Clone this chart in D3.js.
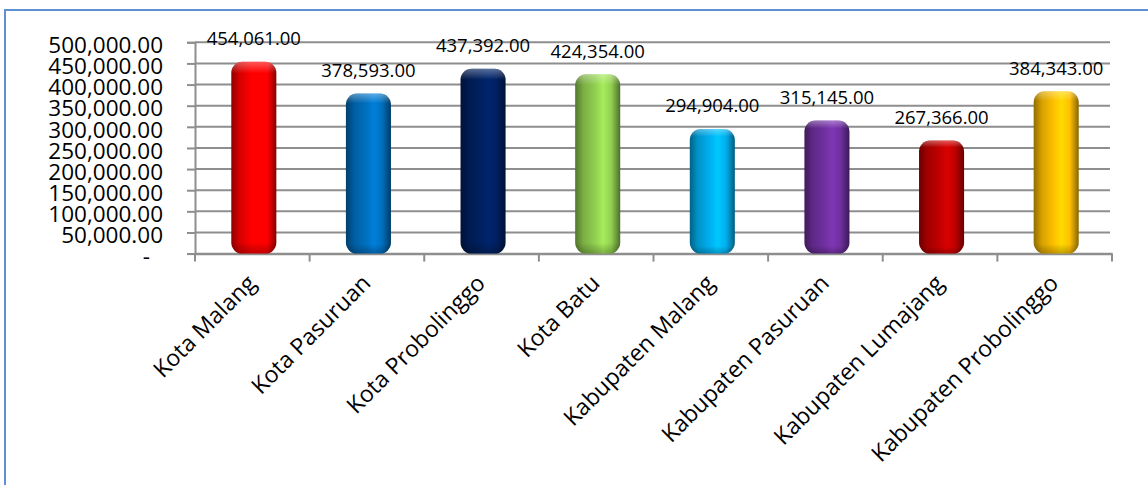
<!DOCTYPE html>
<html>
<head>
<meta charset="utf-8">
<script src="https://cdn.jsdelivr.net/npm/d3@7"></script>
<style>
  html, body { margin: 0; padding: 0; background: #fff; }
  svg { display: block; }
  text { font-family: "Open Sans", "Noto Sans", sans-serif; fill: #000; }
</style>
</head>
<body>
<script>
const categories = ["Kota Malang", "Kota Pasuruan", "Kota Probolinggo", "Kota Batu",
  "Kabupaten Malang", "Kabupaten Pasuruan", "Kabupaten Lumajang", "Kabupaten Probolinggo"];
const values = [454061, 378593, 437392, 424354, 294904, 315145, 267366, 384343];
const barColors = ["#FF0000", "#0070C0", "#002060", "#92D050", "#00B0F0", "#7030A0", "#C00000", "#FFC000"];
const yTicks = [0, 50000, 100000, 150000, 200000, 250000, 300000, 350000, 400000, 450000, 500000];

const W = 1148, H = 485;
const plot = { left: 195, right: 1112, top: 42.3, bottom: 253.6 };

const svg = d3.select("body").append("svg").attr("width", W).attr("height", H);
const defs = svg.append("defs");

// frame
svg.append("rect").attr("x", 5).attr("y", 10).attr("width", 1160).attr("height", 500)
  .attr("fill", "none").attr("stroke", "#5f8fd4").attr("stroke-width", 2);

const x = d3.scaleBand().domain(categories).range([plot.left, plot.right])
  .paddingInner(0.607).paddingOuter(0.3035);
const y = d3.scaleLinear().domain([0, 500000]).range([plot.bottom, plot.top]);

const fmt = d3.format(",.2f");

// gridlines
svg.append("g").selectAll("line").data(yTicks.slice(1)).join("line")
  .attr("x1", plot.left).attr("x2", plot.right - 2)
  .attr("y1", d => y(d)).attr("y2", d => y(d))
  .attr("stroke", "#8e8e8e").attr("stroke-width", 2);

// y axis
const yAxis = d3.axisLeft(y).tickValues(yTicks).tickSize(8).tickPadding(24)
  .tickFormat(d => d === 0 ? "-" : fmt(d));
const gy = svg.append("g").attr("transform", `translate(${plot.left},0)`).call(yAxis);
gy.select(".domain").attr("stroke", "#8e8e8e").attr("stroke-width", 2);
gy.selectAll(".tick line").attr("stroke", "#8e8e8e").attr("stroke-width", 2);
gy.selectAll(".tick text").attr("font-size", "22.5px").attr("dy", null)
  .attr("y", 10.2)
  .attr("x", d => d === 0 ? -45 : -32)
  .style("font-family", '"Open Sans", sans-serif');

// x axis
const xAxis = d3.axisBottom(x).tickSize(0).tickFormat("");
const gx = svg.append("g").attr("transform", `translate(0,${plot.bottom})`).call(xAxis);
gx.select(".domain").attr("stroke", "#8e8e8e").attr("stroke-width", 2.5);
const step = x.step();
const xTickPos = d3.range(categories.length + 1).map(i => plot.left + i * step);
svg.append("g").selectAll("line").data(xTickPos).join("line")
  .attr("x1", d => d).attr("x2", d => d)
  .attr("y1", plot.bottom).attr("y2", plot.bottom + 8)
  .attr("stroke", "#8e8e8e").attr("stroke-width", 2);

// gradients
barColors.forEach((c, i) => {
  const base = d3.color(c);
  const g = defs.append("linearGradient").attr("id", "g" + i)
    .attr("x1", "0%").attr("x2", "100%").attr("y1", "0%").attr("y2", "0%");
  const dark = base.darker(1.6), mid = base.darker(0.5), hi = base.brighter(0.35), edge = base.darker(1.2);
  [[0, dark], [0.18, mid], [0.45, base], [0.62, hi], [0.8, base], [0.95, edge], [1, base.darker(1.8)]]
    .forEach(([o, col]) => g.append("stop").attr("offset", o).attr("stop-color", col.formatHex()));
  const v = defs.append("linearGradient").attr("id", "v" + i)
    .attr("x1", "0%").attr("x2", "0%").attr("y1", "0%").attr("y2", "100%");
  v.append("stop").attr("offset", 0).attr("stop-color", "#fff").attr("stop-opacity", 0.35);
  v.append("stop").attr("offset", 0.06).attr("stop-color", "#fff").attr("stop-opacity", 0);
  v.append("stop").attr("offset", 0.94).attr("stop-color", "#000").attr("stop-opacity", 0);
  v.append("stop").attr("offset", 1).attr("stop-color", "#000").attr("stop-opacity", 0.25);
});

const data = categories.map((c, i) => ({ c, v: values[i], i }));
const bars = svg.append("g");
bars.selectAll("rect.bar").data(data).join("rect").attr("class", "bar")
  .attr("x", d => x(d.c) + 1.5).attr("width", x.bandwidth())
  .attr("y", d => y(d.v)).attr("height", d => y(0) - y(d.v))
  .attr("rx", 11).attr("ry", 11)
  .attr("fill", d => `url(#g${d.i})`);
bars.selectAll("rect.shade").data(data).join("rect").attr("class", "shade")
  .attr("x", d => x(d.c) + 1.5).attr("width", x.bandwidth())
  .attr("y", d => y(d.v)).attr("height", d => y(0) - y(d.v))
  .attr("rx", 11).attr("ry", 11)
  .attr("fill", d => `url(#v${d.i})`);

// data labels
svg.append("g").selectAll("text").data(data).join("text")
  .attr("x", d => x(d.c) + x.bandwidth() / 2 + 1.5)
  .attr("y", d => y(d.v) - 16.5)
  .attr("text-anchor", "middle")
  .attr("font-size", "18.5px")
  .text(d => fmt(d.v));

// category labels
svg.append("g").selectAll("text").data(categories).join("text")
  .attr("text-anchor", "end")
  .attr("font-size", "23px")
  .attr("transform", d => `translate(${x(d) + x.bandwidth() / 2 + 5},${plot.bottom + 31}) rotate(-45)`)
  .text(d => d);
</script>
</body>
</html>
